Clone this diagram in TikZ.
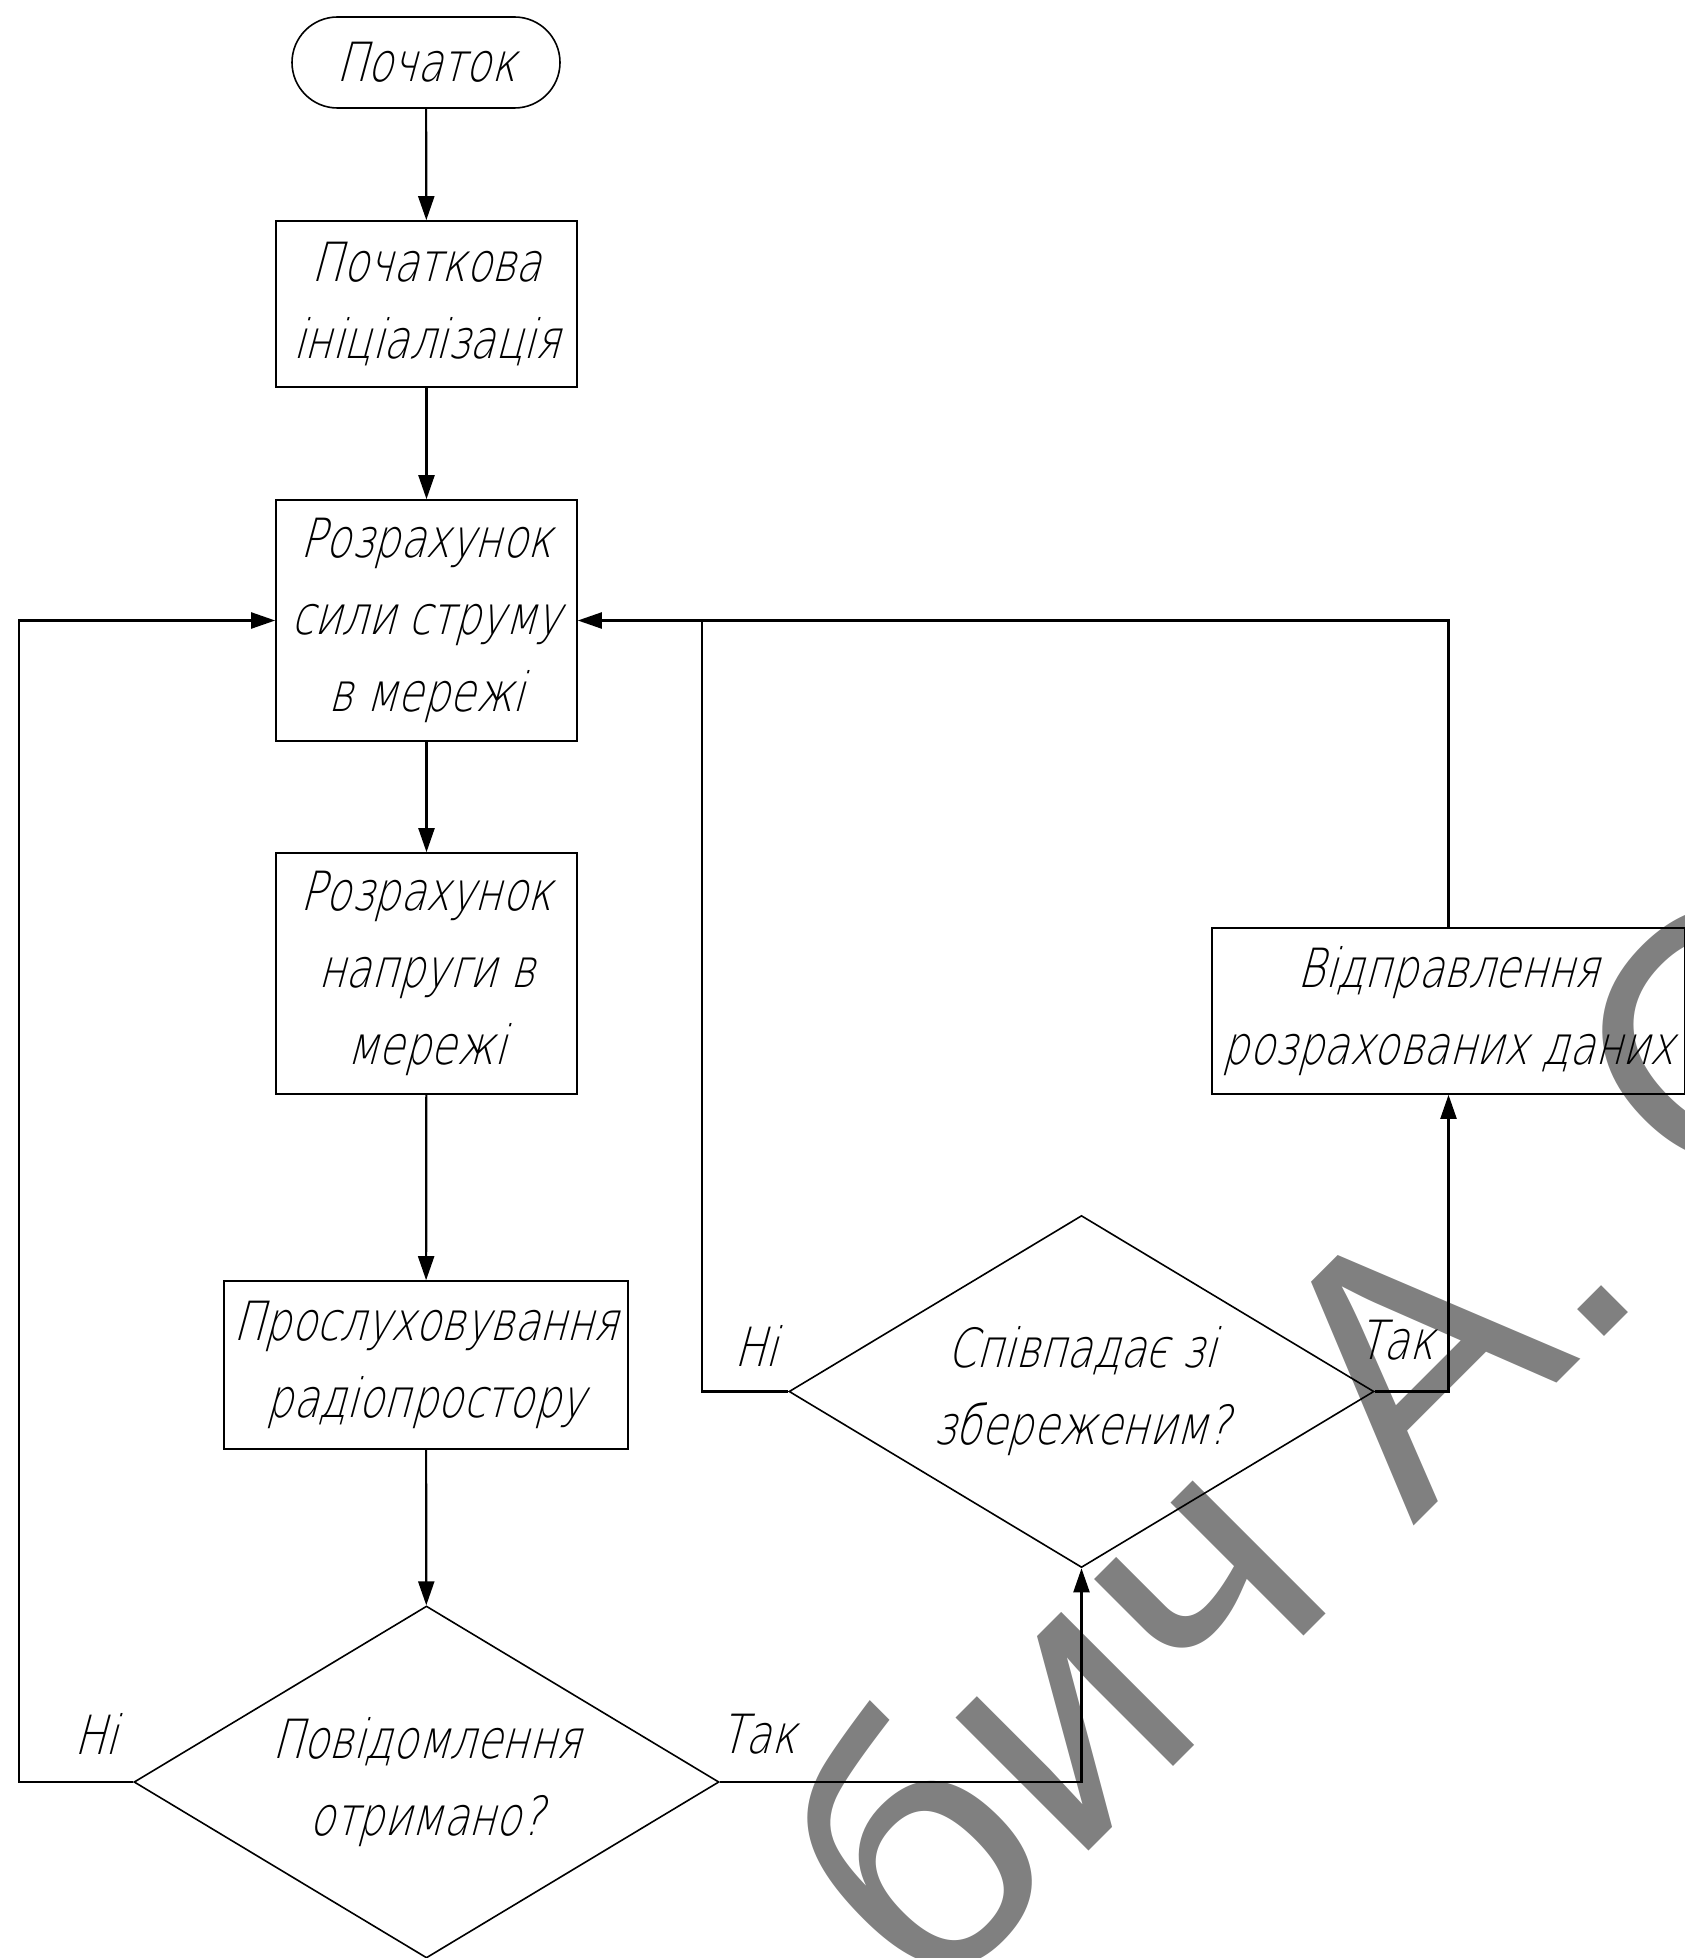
\documentclass[tikz,border=0pt]{standalone}
\usepackage{fontspec}
\newfontfamily\gost{DejaVu Sans ExtraLight}[FakeStretch=0.77, FakeSlant=0.27]
\newfontfamily\wmfont{Liberation Sans}
\usetikzlibrary{shapes.geometric,arrows.meta}
\definecolor{wmgray}{RGB}{128,128,128}
\newcommand\txt{\gost\fontsize{27pt}{38.5pt}\selectfont}
\begin{document}
\begin{tikzpicture}[x=0.5pt,y=-0.5pt,
  box/.style={draw, line width=0.8pt, inner sep=0pt, align=center, font=\txt},
  term/.style={draw, line width=0.8pt, inner sep=0pt, rounded corners=22.75pt, minimum width=134pt, minimum height=45.5pt, font=\txt},
  dec/.style={draw, diamond, shape aspect=1.66, line width=0.8pt, inner sep=0pt, minimum width=292.5pt, minimum height=176pt, align=center, font=\txt},
  conn/.style={draw, line width=1.1pt, -{Triangle[length=12pt,width=8pt]}},
  plain/.style={draw, line width=1.1pt},
  lbl/.style={inner sep=0pt, font=\txt},
  wmark/.style={inner sep=0pt, text=wmgray, font=\wmfont\fontsize{178pt}{178pt}\selectfont}]
\useasboundingbox (0,0) rectangle (1685,1958);
\begin{scope}
\clip (0,0) rectangle (1685,1958);
\node[wmark, anchor=base west, rotate=45] (wm) at (927,2013) {бич А. О};
\end{scope}

\node[term] (start) at (426,62.5) {Початок};
\node[box, minimum width=150.5pt, minimum height=83pt] (init) at (426.5,304) {Початкова\\ініціалізація};
\node[box, minimum width=150.5pt, minimum height=120.5pt] (cur) at (426.5,620.5) {Розрахунок\\сили струму\\в мережі};
\node[box, minimum width=150.5pt, minimum height=120.5pt] (volt) at (426.5,973.5) {Розрахунок\\напруги в\\мережі};
\node[box, minimum width=202pt, minimum height=84pt] (listen) at (426,1365) {Прослуховування\\радіопростору};
\node[dec] (msg) at (426.5,1782) {Повідомлення\\отримано?};
\node[dec] (match) at (1081.5,1391.5) {Співпадає зі\\збереженим?};
\node[box, minimum width=236.5pt, minimum height=83pt] (send) at (1448.5,1011) {Відправлення\\розрахованих даних};

\coordinate (lx) at (19,0);
\coordinate (mx) at (702,0);
\coordinate (join) at (cur.east -| mx);

\draw[conn] (start) -- (init);
\draw[conn] (init) -- (cur);
\draw[conn] (cur) -- (volt);
\draw[conn] (volt) -- (listen);
\draw[conn] (listen) -- (msg);
\draw[conn] (msg.west) -- (msg.west -| lx) |- (cur.west);
\draw[conn] (msg.east) -| (match.south);
\draw[conn] (match.west) -- (match.west -| mx) |- (cur.east);
\draw[plain] (send.north) |- (join);
\draw[conn] (match.east) -| (send.south);

\node[lbl] (no1) at (96,1734) {Ні};
\node[lbl] (yes1) at (758,1734) {Так};
\node[lbl] (no2) at (756,1346) {Ні};
\node[lbl] (yes2) at (1396,1340) {Так};
\end{tikzpicture}
\end{document}
